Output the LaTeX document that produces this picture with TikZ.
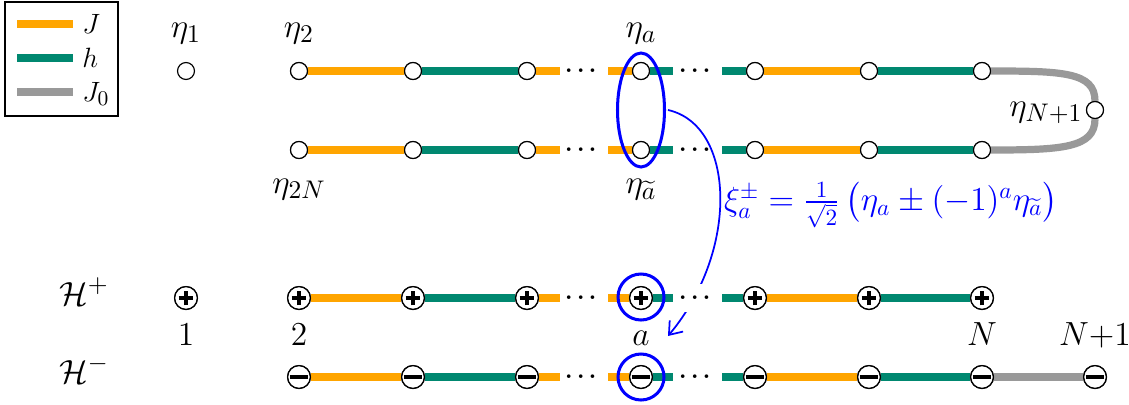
\documentclass[tikz,border=0pt]{standalone}
\usepackage{amsmath}
\usetikzlibrary{shapes.geometric,arrows.meta}
\definecolor{cJ}{RGB}{255,165,0}
\definecolor{ch}{RGB}{0,136,112}
\definecolor{cJz}{RGB}{153,153,153}
\begin{document}
\begin{tikzpicture}[x=0.43pt,y=-0.43pt,
  bond/.style={line width=3.1pt},
  Jb/.style={bond,cJ}, hb/.style={bond,ch}, Zb/.style={bond,cJz},
  site/.style={circle,draw,fill=white,line width=0.5pt,minimum size=7.3pt,inner sep=0pt},
  pm/.style={circle,draw,fill=white,line width=0.55pt,minimum size=9.8pt,inner sep=0pt},
  dotsn/.style={font=\normalsize\boldmath,inner sep=0pt},
  gapdots/.style={dotsn,fill=white,inner xsep=1.5pt,inner ysep=3.6pt},
  lab/.style={font=\fontsize{15.6}{19}\selectfont,anchor=base},
  num/.style={font=\Large,anchor=base},
  legl/.style={anchor=west,inner sep=0pt,font=\fontsize{13}{15}\selectfont},
  ring/.style={blue,line width=1.3pt}]
\useasboundingbox (0,0) rectangle (1129,404);
% legend
\node[draw,line width=0.5pt,minimum width=113*0.43pt,minimum height=114*0.43pt,inner sep=0pt] (leg) at (61.5,59) {};
\coordinate (lJa) at (17,24); \coordinate (lJb) at (73,24);
\coordinate (lha) at (17,58); \coordinate (lhb) at (73,58);
\coordinate (lZa) at (17,92); \coordinate (lZb) at (73,92);
\draw[Jb] (lJa) -- (lJb);
\draw[hb] (lha) -- (lhb);
\draw[Zb] (lZa) -- (lZb);
\node[legl] (tJ) at (82,24) {$J$};
\node[legl] (th) at (82,58) {$h$};
\node[legl] (tZ) at (82,94) {$J_0$};

% coordinates for stubs
\foreach \r/\y in {t/71,b/150,p/298,m/377}{
  \coordinate (\r s1) at (560,\y); \coordinate (\r s2) at (608,\y);
  \coordinate (\r s3) at (673,\y); \coordinate (\r s4) at (722,\y);
}
% sites
\node[site] (t1) at (186,71) {};
\node[site] (t2) at (299,71) {};
\node[site] (t3) at (413,71) {};
\node[site] (t4) at (527,71) {};
\node[site] (ta) at (641,71) {};
\node[site] (t6) at (755,71) {};
\node[site] (t7) at (869,71) {};
\node[site] (t8) at (982,71) {};
\node[site] (tN) at (1095,110) {};
\node[site] (b2) at (299,150) {};
\node[site] (b3) at (413,150) {};
\node[site] (b4) at (527,150) {};
\node[site] (ba) at (641,150) {};
\node[site] (b6) at (755,150) {};
\node[site] (b7) at (869,150) {};
\node[site] (b8) at (982,150) {};
\foreach \n/\xx in {p1/186,p2/299,p3/413,p4/527,pa/641,p6/755,p7/869,p8/982}{
  \node[pm] (\n) at (\xx,298) {};
}
\foreach \n/\xx in {m2/299,m3/413,m4/527,ma/641,m6/755,m7/869,m8/982,m9/1095}{
  \node[pm] (\n) at (\xx,377) {};
}
% bonds
\foreach \r in {t,b,p,m}{
  \draw[Jb] (\r2) -- (\r3);
  \draw[hb] (\r3) -- (\r4);
  \draw[Jb] (\r4) -- (\r s1);
  \draw[Jb] (\r s2) -- (\r a);
  \draw[hb] (\r a) -- (\r s3);
  \draw[hb] (\r s4) -- (\r6);
  \draw[Jb] (\r6) -- (\r7);
  \draw[hb] (\r7) -- (\r8);
}
\draw[Zb] (m8) -- (m9);
\draw[Zb] (t8) .. controls (1062,71) and (1095,72) .. (tN) .. controls (1095,148) and (1062,150) .. (b8);
% redraw sites on top of bonds
\foreach \n in {t2,t3,t4,ta,t6,t7,t8,tN,b2,b3,b4,ba,b6,b7,b8}{
  \node[site] at (\n.center) {};
}
\foreach \n in {p1,p2,p3,p4,pa,p6,p7,p8}{
  \node[pm] at (\n.center) {};
  \draw[line width=1.4pt] ([xshift=-3.2pt]\n.center) -- ([xshift=3.2pt]\n.center)
    ([yshift=-3.2pt]\n.center) -- ([yshift=3.2pt]\n.center);
}
\foreach \n in {m2,m3,m4,ma,m6,m7,m8,m9}{
  \node[pm] at (\n.center) {};
  \draw[line width=1.3pt] ([xshift=-3.9pt]\n.center) -- ([xshift=3.9pt]\n.center);
}
% blue annotations
\node[ring,ellipse,draw,minimum width=47*0.43pt,minimum height=114*0.43pt,inner sep=0pt] (ell) at (641,110) {};
\node[ring,circle,draw,minimum size=46*0.43pt,inner sep=0pt] (cp) at (641,297) {};
\node[ring,circle,draw,minimum size=46*0.43pt,inner sep=0pt] (cm) at (641,377) {};
\coordinate (arrS) at (668,110);
\coordinate (arrE) at (668,336);
\draw[blue,line width=0.75pt,-{Straight Barb[length=5pt,width=7.5pt]}] (arrS) .. controls (735,125) and (740,250) .. (arrE);
\node[blue,font=\fontsize{13.6}{16}\selectfont,inner sep=0pt] (xi) at (891,205) {$\xi_a^{\pm}=\frac{1}{\sqrt{2}}\,\bigl(\eta_a\pm(-1)^a\eta_{\widetilde{a}}\bigr)$};
% dots
\foreach \r/\y in {t/71,b/150,m/377}{
  \node[dotsn] (\r d1) at (583,\y) {$\cdots$};
  \node[dotsn] (\r d2) at (697,\y) {$\cdots$};
}
\node[dotsn] (pd1) at (583,298) {$\cdots$};
\node[gapdots] (pd2) at (697,298) {$\cdots$};
% labels
\coordinate (ytop) at (0,37);
\coordinate (ybot) at (0,193);
\coordinate (ynum) at (0,345);
\node[lab] (l1) at (t1 |- ytop) {$\eta_1$};
\node[lab] (l2) at (t2 |- ytop) {$\eta_2$};
\node[lab] (la) at (ta |- ytop) {$\eta_a$};
\node[lab] (l2N) at (b2 |- ybot) {$\eta_{2N}$};
\node[lab] (lat) at (ba |- ybot) {$\eta_{\widetilde{a}}$};
\node[lab,anchor=base east,inner sep=0pt] (lN1) at (1083,116) {$\eta_{N+1}$};
\node[num] (n1) at (p1 |- ynum) {$1$};
\node[num] (n2) at (p2 |- ynum) {$2$};
\node[num] (na) at (pa |- ynum) {$a$};
\node[num] (nN) at (p8 |- ynum) {$N$};
\node[num] (nN1) at (m9 |- ynum) {$N{+}1$};
\node[font=\fontsize{15.5}{19}\selectfont,anchor=base] (Hp) at (84,305) {$\mathcal{H}^+$};
\node[font=\fontsize{15.5}{19}\selectfont,anchor=base] (Hm) at (84,383) {$\mathcal{H}^-$};
\end{tikzpicture}
\end{document}
